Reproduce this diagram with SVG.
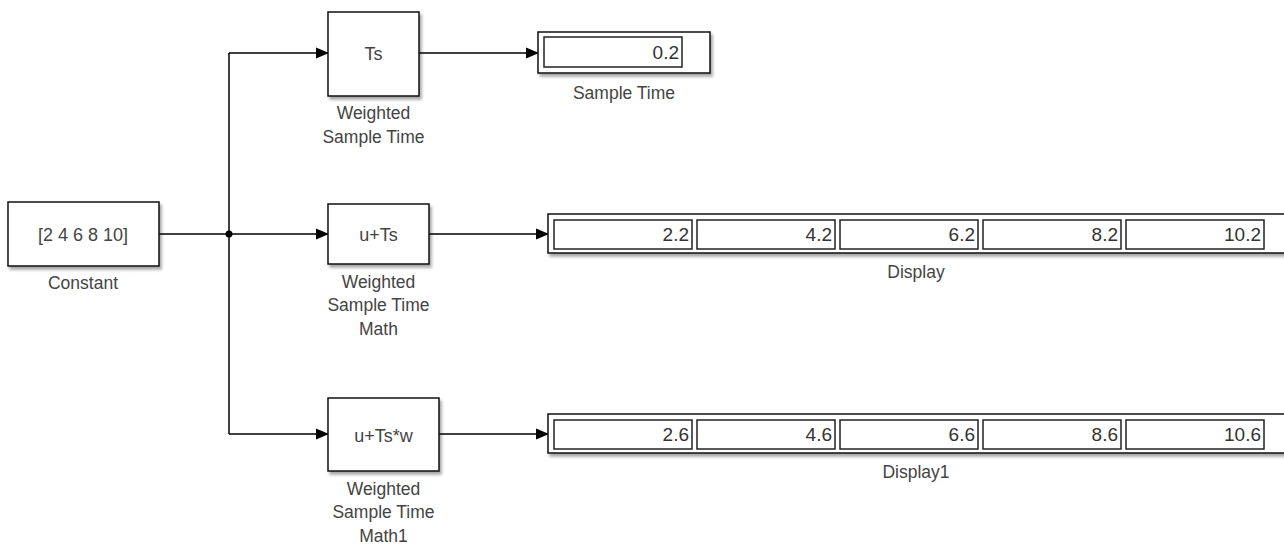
<svg xmlns="http://www.w3.org/2000/svg" width="1284" height="544" viewBox="0 0 1284 544">
<defs>
<filter id="sh" x="-10%" y="-10%" width="130%" height="140%">
<feDropShadow dx="2" dy="3" stdDeviation="1.6" flood-color="#000" flood-opacity="0.35"/>
</filter>
<marker id="ar" viewBox="0 0 13 12" refX="12" refY="6" markerWidth="13" markerHeight="12" markerUnits="userSpaceOnUse" orient="auto">
<path d="M0,0.5 L13,6 L0,11.5 Z" fill="#000"/>
</marker>
</defs>
<style>
.blk{fill:#fff;stroke:#111;stroke-width:1.5;filter:url(#sh)}
.cell{fill:#fff;stroke:#222;stroke-width:1.5}
.t{font-family:"Liberation Sans",Arial,sans-serif;font-size:18px;fill:#444;text-anchor:middle}
.lb{font-family:"Liberation Sans",Arial,sans-serif;font-size:17.5px;fill:#444;text-anchor:middle}
.num{font-family:"Liberation Sans",Arial,sans-serif;font-size:19px;fill:#333;text-anchor:end}
.w{fill:none;stroke:#000;stroke-width:1.5}
</style>
<rect width="1284" height="544" fill="#fff"/>
<g id="connectors">
<path class="w" d="M159,234 H229"/>
<path class="w" d="M229,53 V434"/>
<path class="w" d="M229,53 H328" marker-end="url(#ar)"/>
<path class="w" d="M229,234 H328" marker-end="url(#ar)"/>
<path class="w" d="M229,434 H328" marker-end="url(#ar)"/>
<path class="w" d="M419,53 H538" marker-end="url(#ar)"/>
<path class="w" d="M429,234 H548" marker-end="url(#ar)"/>
<path class="w" d="M439,434 H548" marker-end="url(#ar)"/>
<circle cx="229" cy="234" r="3.5" fill="#000"/>
</g>
<g id="constant">
<rect class="blk" x="8" y="202" width="151" height="64"/>
<text class="t" x="83" y="240.5">[2 4 6 8 10]</text>
<text class="lb" x="83" y="289">Constant</text>
</g>
<g id="wst">
<rect class="blk" x="328" y="12" width="91" height="84"/>
<text class="t" x="373.5" y="59.5">Ts</text>
<text class="lb" x="373.5" y="119">Weighted</text>
<text class="lb" x="373.5" y="143">Sample Time</text>
</g>
<g id="wstm">
<rect class="blk" x="328" y="204" width="101" height="60"/>
<text class="t" x="378.5" y="240.5">u+Ts</text>
<text class="lb" x="378.5" y="287.5">Weighted</text>
<text class="lb" x="378.5" y="311">Sample Time</text>
<text class="lb" x="378.5" y="334.5">Math</text>
</g>
<g id="wstm1">
<rect class="blk" x="328" y="398" width="111" height="73"/>
<text class="t" x="383.5" y="441.5">u+Ts*w</text>
<text class="lb" x="383.5" y="494.5">Weighted</text>
<text class="lb" x="383.5" y="518">Sample Time</text>
<text class="lb" x="383.5" y="541.5">Math1</text>
</g>
<g id="sampletime">
<rect class="blk" x="538" y="32" width="172" height="41"/>
<rect class="cell" x="544" y="37" width="138" height="30"/>
<text class="num" x="679" y="59">0.2</text>
<text class="lb" x="624" y="98.5">Sample Time</text>
</g>
<g id="display">
<rect class="blk" x="548" y="214" width="740" height="39"/>
<rect class="cell" x="554" y="220" width="138" height="29"/>
<rect class="cell" x="697" y="220" width="138" height="29"/>
<rect class="cell" x="840" y="220" width="138" height="29"/>
<rect class="cell" x="983" y="220" width="138" height="29"/>
<rect class="cell" x="1126" y="220" width="138" height="29"/>
<text class="num" x="689" y="241">2.2</text>
<text class="num" x="832" y="241">4.2</text>
<text class="num" x="975" y="241">6.2</text>
<text class="num" x="1118" y="241">8.2</text>
<text class="num" x="1261" y="241">10.2</text>
<text class="lb" x="916" y="277.5">Display</text>
</g>
<g id="display1">
<rect class="blk" x="548" y="414" width="740" height="39"/>
<rect class="cell" x="554" y="420" width="138" height="29"/>
<rect class="cell" x="697" y="420" width="138" height="29"/>
<rect class="cell" x="840" y="420" width="138" height="29"/>
<rect class="cell" x="983" y="420" width="138" height="29"/>
<rect class="cell" x="1126" y="420" width="138" height="29"/>
<text class="num" x="689" y="441">2.6</text>
<text class="num" x="832" y="441">4.6</text>
<text class="num" x="975" y="441">6.6</text>
<text class="num" x="1118" y="441">8.6</text>
<text class="num" x="1261" y="441">10.6</text>
<text class="lb" x="916" y="477.5">Display1</text>
</g>
</svg>
